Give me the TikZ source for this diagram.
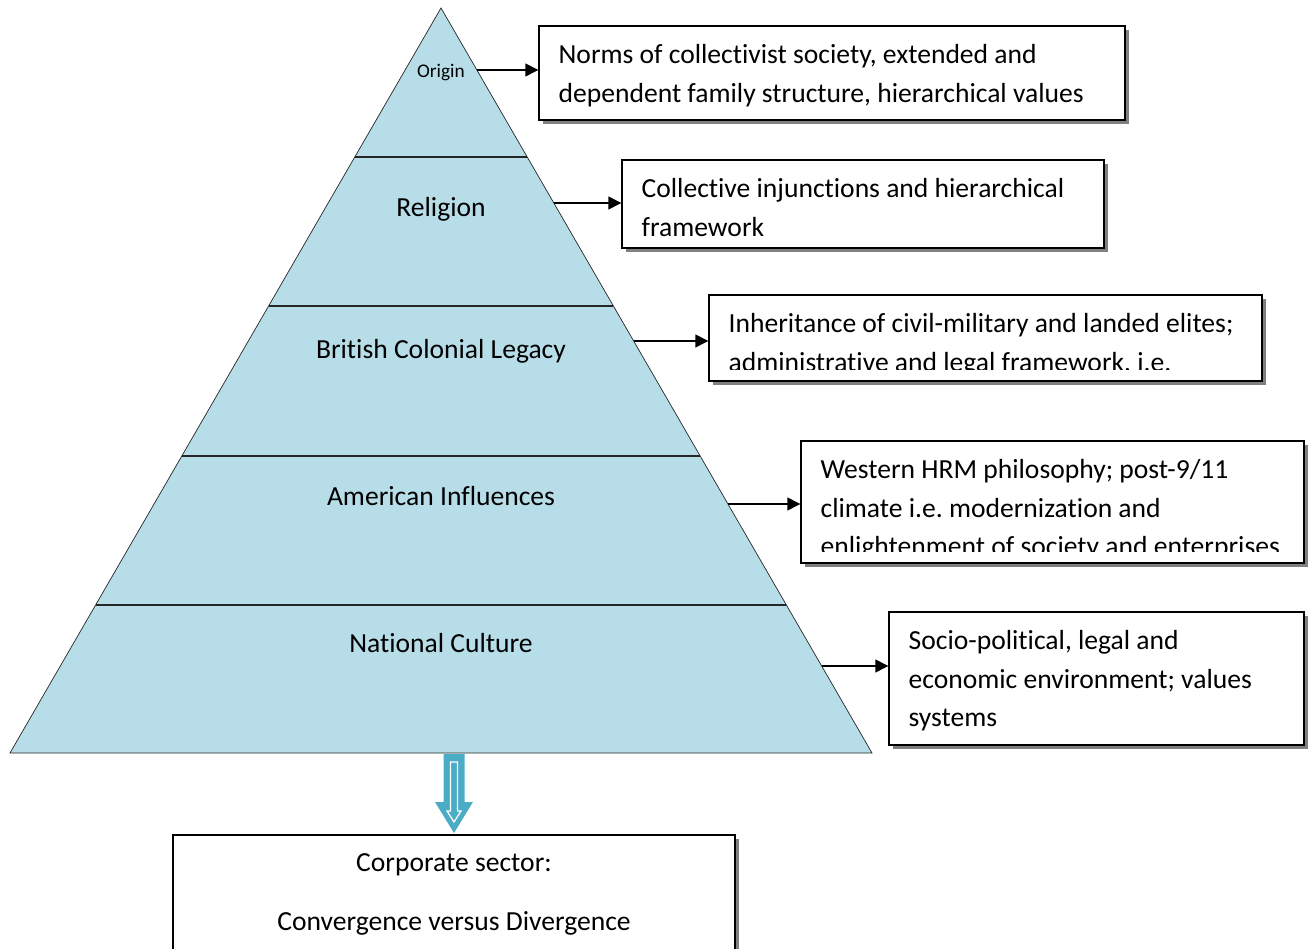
\documentclass[tikz,border=0pt]{standalone}
\usepackage{fontspec}
\setmainfont{Carlito}[Ligatures=NoCommon]
\usepackage{xcolor}
\usepackage{tikz}
\usetikzlibrary{arrows.meta,calc,fit,shadows}

\definecolor{tierblue}{HTML}{B7DEE8}
\definecolor{flowblue}{HTML}{4BACC6}
\frenchspacing

\begin{document}
\begin{tikzpicture}[x=0.02cm,y=-0.02cm,
    >={Triangle[length=0.26cm,width=0.26cm]},
    tier/.style={fill=tierblue,draw=black!85,line width=0.4pt},
    layer/.style={font=\fontsize{15.7}{22}\selectfont,text height=0.7em,text depth=0.2em,inner sep=0pt},
    note/.style={draw,fill=white,line width=0.8pt,inner sep=0pt,
      drop shadow={shadow xshift=0.08cm,shadow yshift=-0.08cm,fill=black!50,opacity=1}},
    notetext/.style={font=\fontsize{15.7}{22}\selectfont,align=left,inner sep=0pt,anchor=base west}]
  \useasboundingbox (0,0) rectangle (1313,949);

  % pyramid and its tiers
  \coordinate (top) at (441,8);
  \coordinate (bl) at (10,753);
  \coordinate (br) at (872,753);
  \draw[tier] (bl) -- (top) -- (br) -- cycle;
  \foreach \y in {157,306,456,605}
    \draw[line width=0.8pt,black!85] ($(top)!{(\y-8)/745}!(bl)$) -- ($(top)!{(\y-8)/745}!(br)$);

  \node[layer,font=\fontsize{11}{13}\selectfont] (origin) at (441,73) {Origin};
  \node[layer] (religion) at (441,212) {Religion};
  \node[layer] (colonial) at (441,354) {British Colonial Legacy};
  \node[layer] (american) at (441,501) {American Influences};
  \node[layer] (national) at (441,648) {National Culture};

  % notes on the right (placed by the last baseline, 38.8 apart)
  \node[note,fit={(539,26) (1125,120)}] (n1) {};
  \node[notetext] at ($(n1.north west)+(20,76.8)$)
    {Norms of collectivist society, extended and\\dependent family structure, hierarchical values};
  \node[note,fit={(622,160) (1104,248)}] (n2) {};
  \node[notetext] at ($(n2.north west)+(20,76.8)$)
    {Collective injunctions and hierarchical\\framework};
  \node[note,fit={(709,295) (1262,381)}] (n3) {};
  \begin{scope}
    \clip (n3.north west) rectangle ($(n3.south east)+(0,-12)$);
    \node[notetext] at ($(n3.north west)+(20,76.8)$)
      {Inheritance of civil-military and landed elites;\\administrative and legal framework, i.e.};
  \end{scope}
  \node[note,fit={(801,441) (1304,563)}] (n4) {};
  \begin{scope}
    \clip (n4.north west) rectangle ($(n4.south east)+(0,-12)$);
    \node[notetext] at ($(n4.north west)+(20,115.6)$)
      {Western HRM philosophy; post-9/11\\climate i.e. modernization and\\enlightenment of society and enterprises};
  \end{scope}
  \node[note,fit={(889,612) (1304,745)}] (n5) {};
  \node[notetext] at ($(n5.north west)+(20,115.6)$)
    {Socio-political, legal and\\economic environment; values\\systems};

  % arrows from the right edge of the pyramid
  \foreach \y/\n in {70/1,203/2,341/3,504/4,666/5} {
    \coordinate (e\n) at ($(top)!{(\y-8)/745}!(br)$);
    \draw[->,line width=0.8pt] (e\n) -- (e\n -| n\n.west);
  }

  % outcome box
  \node[note,fit={(173,835) (735,960)}] (corp) {};
  \node[notetext,anchor=base,align=center] (outcome) at (454,930.5)
    {Corporate sector:\\[11.5pt]Convergence versus Divergence};

  % block arrow down to the outcome
  \coordinate (base) at (454,754);
  \begin{scope}[shift={(base)}]
    \fill[flowblue] (-10.5,0) -- (10.5,0) -- (10.5,48) -- (19,48) -- (0,79) -- (-19,48) -- (-10.5,48) -- cycle;
    \draw[white,line width=0.7pt] (-3.5,8) -- (3.5,8) -- (3.5,57) -- (7,57) -- (0,68) -- (-7,57) -- (-3.5,57) -- cycle;
  \end{scope}
\end{tikzpicture}
\end{document}
